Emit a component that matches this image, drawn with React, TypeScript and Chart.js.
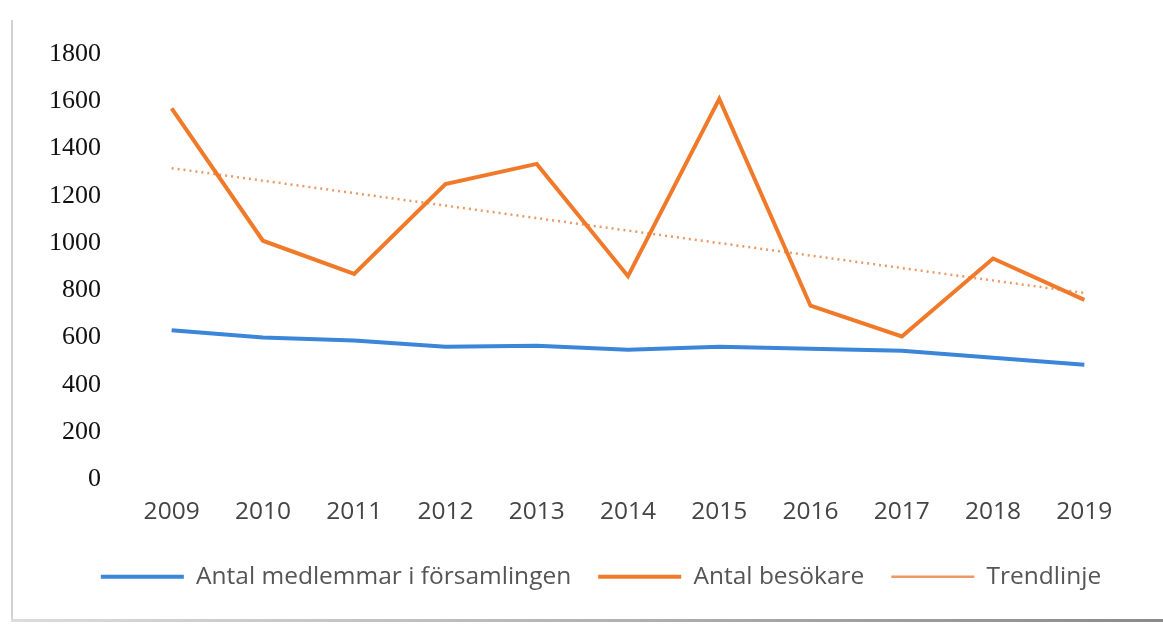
import React, { useEffect, useRef } from "react";
import { Chart, registerables } from "chart.js";

Chart.register(...registerables);

const years = ["2009", "2010", "2011", "2012", "2013", "2014", "2015", "2016", "2017", "2018", "2019"];
const members = [631, 601, 588, 562, 566, 549, 562, 553, 545, 515, 485];
const visitors = [1570, 1010, 870, 1250, 1335, 860, 1610, 735, 605, 935, 760];
const trend = [1317, null, null, null, null, null, null, null, null, null, 789];
const seriesNames = ["Antal medlemmar i församlingen", "Antal besökare", "Trendlinje"];

const legendShift = {
  id: "legendShift",
  afterLayout(chart: any) {
    const l = chart.legend;
    if (l) {
      l.left += 16;
      l.right += 16;
    }
  },
};

export default function App() {
  const ref = useRef<HTMLCanvasElement | null>(null);

  useEffect(() => {
    if (!ref.current) return;
    const chart = new Chart(ref.current, {
      type: "line",
      data: {
        labels: years,
        datasets: [
          {
            label: seriesNames[0],
            data: members,
            borderColor: "#3b86d8",
            backgroundColor: "#3b86d8",
            borderWidth: 4,
            pointRadius: 0,
            tension: 0,
          },
          {
            label: seriesNames[1],
            data: visitors,
            borderColor: "#f07a2a",
            backgroundColor: "#f07a2a",
            borderWidth: 4,
            pointRadius: 0,
            tension: 0,
          },
          {
            label: seriesNames[2],
            data: trend,
            borderColor: "#e99a66",
            backgroundColor: "#e99a66",
            borderWidth: 2.5,
            borderDash: [2, 4],
            pointRadius: 0,
            spanGaps: true,
            tension: 0,
          },
        ],
      },
      plugins: [legendShift],
      options: {
        animation: false,
        responsive: false,
        maintainAspectRatio: false,
        layout: { padding: { left: 40, right: 33, top: 54, bottom: 26 } },
        plugins: {
          tooltip: { enabled: false },
          legend: {
            position: "bottom",
            labels: {
              usePointStyle: true,
              pointStyle: "line",
              pointStyleWidth: 83,
              padding: 27,
              color: "#555",
              font: { family: "'Open Sans'", size: 24.5 },
            },
          },
        },
        scales: {
          x: {
            offset: true,
            grid: { display: false, drawTicks: false },
            border: { display: false },
            ticks: {
              color: "#444",
              padding: 18,
              maxRotation: 0,
              font: { family: "'Open Sans'", size: 24.5 },
            },
            afterFit: (scale: any) => {
              scale.height = 58;
            },
          },
          y: {
            min: 0,
            max: 1800,
            grid: { display: false, drawTicks: false },
            border: { display: false },
            ticks: {
              stepSize: 200,
              color: "#111",
              padding: 25,
              font: { family: "'Liberation Serif'", size: 26 },
              callback: (v: any) => String(v),
            },
            afterFit: (scale: any) => {
              scale.width = 86;
            },
          },
        },
      },
    });
    return () => chart.destroy();
  }, []);

  return (
    <div style={{ position: "fixed", left: 0, top: 0, width: 1163, height: 625, background: "#fff" }}>
      <div style={{ position: "absolute", left: 11, top: 20, width: 2, height: 601, background: "#d2d2d2" }} />
      <div
        style={{
          position: "absolute",
          left: 11,
          top: 619,
          width: 1152,
          height: 3,
          background: "linear-gradient(to right, #dcdcdc, #8a8a8a)",
        }}
      />
      <canvas ref={ref} width={1163} height={625} style={{ position: "absolute", left: 0, top: 0 }} />
    </div>
  );
}
